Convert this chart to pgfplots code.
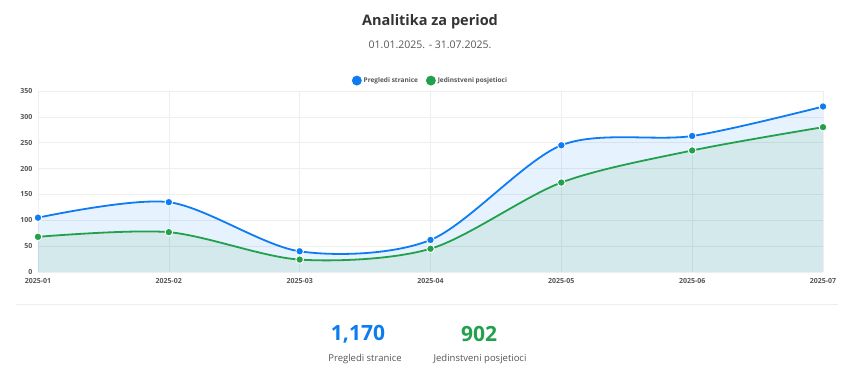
\documentclass[border=0pt]{standalone}
\usepackage{fontspec}
\setmainfont{Open Sans}
\usepackage{pgfplots}
\pgfplotsset{compat=1.18}
\definecolor{cblue}{HTML}{0D7BF2}
\definecolor{cgreen}{HTML}{22A04B}
\definecolor{cgrid}{HTML}{EEEEEE}
\definecolor{ctick}{HTML}{555555}
\definecolor{ctitle}{HTML}{333333}
\definecolor{csub}{HTML}{555555}
\begin{document}
\begin{tikzpicture}[x=1pt,y=1pt]
\path[use as bounding box] (0,0) rectangle (855,382);
\node[font=\fontsize{14.5}{16}\selectfont\bfseries, text=ctitle] at (430,360) {Analitika za period};
\node[font=\fontsize{10.5}{12}\selectfont, text=csub] at (430,337) {01.01.2025. - 31.07.2025.};
\begin{axis}[
  at={(38pt,110pt)}, anchor=south west,
  scale only axis, width=785pt, height=181pt,
  xmin=0, xmax=6, ymin=0, ymax=350,
  xtick={0,...,6},
  xticklabels={2025-01,2025-02,2025-03,2025-04,2025-05,2025-06,2025-07},
  ytick={0,50,...,350},
  axis line style={draw=none},
  major tick length=0pt,
  grid=major, grid style={cgrid, line width=0.6pt},
  tick label style={font=\fontsize{7}{8}\selectfont\bfseries, text=ctick},
  /pgf/number format/assume math mode=true,
  yticklabel style={xshift=-2pt},
  xticklabel style={yshift=-3pt},
  legend columns=2,
  legend style={at={(0.5,1)}, anchor=south, yshift=3pt, draw=none, fill=none,
    font=\fontsize{6.5}{7}\selectfont\bfseries, text=ctick,
    /tikz/every even column/.append style={column sep=6pt}},
  legend image code/.code={\fill[#1] (0.12cm,0) circle (4pt);},
  clip=false,
]
\addplot[draw=none, fill=cblue, fill opacity=0.1, smooth, tension=0.5, forget plot]
  coordinates {(0,105) (1,135) (2,40) (3,62) (4,245) (5,263) (6,320)} \closedcycle;
\addplot[draw=none, fill=cgreen, fill opacity=0.1, smooth, tension=0.5, forget plot]
  coordinates {(0,68) (1,77) (2,24) (3,45) (4,173) (5,235) (6,280)} \closedcycle;
\addplot[cblue, line width=1.8pt, smooth, tension=0.5, mark=*, mark size=3.8pt,
  mark options={fill=cblue, draw=white, line width=0.9pt}]
  coordinates {(0,105) (1,135) (2,40) (3,62) (4,245) (5,263) (6,320)};
\addlegendentry{Pregledi stranice}
\addplot[cgreen, line width=1.8pt, smooth, tension=0.5, mark=*, mark size=3.8pt,
  mark options={fill=cgreen, draw=white, line width=0.9pt}]
  coordinates {(0,68) (1,77) (2,24) (3,45) (4,173) (5,235) (6,280)};
\addlegendentry{Jedinstveni posjetioci}
\end{axis}
\draw[cgrid, line width=0.8pt] (16,78) -- (838,78);
\node[font=\fontsize{21}{23}\selectfont\bfseries, text=cblue] at (358,48) {1,170};
\node[font=\fontsize{9.5}{11}\selectfont, text=csub] at (365,23) {Pregledi stranice};
\node[font=\fontsize{21}{23}\selectfont\bfseries, text=cgreen] at (479,48) {902};
\node[font=\fontsize{9.5}{11}\selectfont, text=csub] at (480,23) {Jedinstveni posjetioci};
\end{tikzpicture}
\end{document}
